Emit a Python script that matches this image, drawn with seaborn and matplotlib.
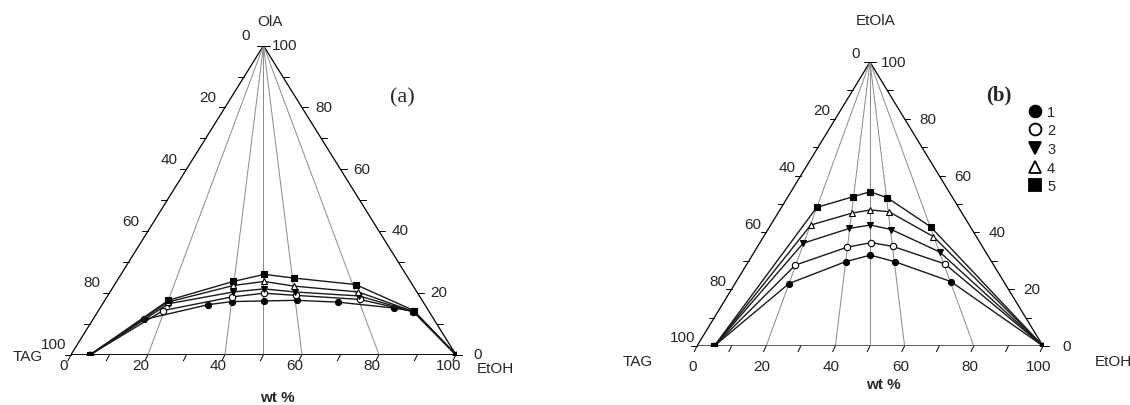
import pandas as pd
import seaborn as sns
import matplotlib.pyplot as plt
from matplotlib.lines import Line2D

# panel (a): EtOH and OlA content (wt %) for each curve, TAG is the rest
a1_etoh = [5, 13.3, 27.6, 33.3, 41.5, 49.8, 60.9, 76.4, 81.9, 100]
a1_ola = [0, 11.4, 16.2, 17.2, 17.4, 17.6, 17.0, 15.1, 14.1, 0]
a2_etoh = [5, 16.8, 32.5, 40.2, 48.8, 66.1, 82.0, 100]
a2_ola = [0, 14.3, 18.7, 19.9, 19.2, 17.9, 13.9, 0]
a3_etoh = [5, 17.1, 32.0, 39.5, 48.0, 65.4, 82.0, 100]
a3_ola = [0, 16.5, 20.3, 21.3, 20.3, 19.0, 13.9, 0]
a4_etoh = [5, 16.6, 31.0, 38.3, 46.8, 64.5, 81.9, 100]
a4_ola = [0, 17.0, 22.4, 23.7, 22.2, 20.3, 14.0, 0]
a5_etoh = [5, 16.5, 30.3, 37.2, 45.5, 62.6, 81.9, 100]
a5_ola = [0, 17.6, 23.7, 26.0, 24.8, 22.7, 14.3, 0]

# panel (b): EtOH and EtOlA content (wt %)
b1_etoh = [5, 15.6, 28.1, 34.1, 42.3, 62.0, 100]
b1_eola = [0, 22.0, 29.7, 32.0, 29.7, 22.7, 0]
b2_etoh = [5, 14.2, 26.0, 32.1, 39.0, 57.2, 100]
b2_eola = [0, 28.5, 34.8, 36.4, 35.1, 28.9, 0]
b3_etoh = [5, 12.6, 23.3, 28.8, 35.7, 53.6, 100]
b3_eola = [0, 36.2, 41.4, 42.6, 41.0, 33.1, 0]
b4_etoh = [5, 11.6, 21.4, 26.1, 31.8, 49.1, 100]
b4_eola = [0, 42.6, 46.8, 47.9, 47.3, 38.5, 0]
b5_etoh = [5, 10.2, 18.9, 22.9, 28.9, 46.5, 100]
b5_eola = [0, 48.8, 52.6, 54.3, 52.2, 42.0, 0]

series_names = ['1', '2', '3', '4', '5']
ratio_lines = [20, 40, 50, 60, 80]  # EtOH/(EtOH+TAG) lines from the apex
tick_values = [0, 20, 40, 60, 80, 100]

markers = ['o', 'o', 'v', '^', 's']
faces = ['black', 'white', 'black', 'white', 'black']
msizes = [4.4, 4.6, 4.8, 4.8, 5.0]

sns.set_style('white')
plt.rcParams['font.family'] = ['Liberation Sans', 'DejaVu Sans']
FS = 11


def ternary_xy(etoh, top):
    # bottom edge runs 0..100 in EtOH, apex is 100 % of the top component
    x = [e + t / 2 for e, t in zip(etoh, top)]
    return x, list(top)


def draw_frame(ax, left_off, right_off, bottom_off):
    ax.plot([0, 100, 50, 0], [0, 0, 100, 0], color='black', lw=0.9)
    for r in ratio_lines:
        ax.plot([50, r], [100, 0], color='#8a8a8a', lw=0.7)
    for v in range(0, 101, 10):
        ax.plot([v, v - 0.8], [0, -2.0], color='black', lw=0.7, clip_on=False)
        ax.plot([v / 2, v / 2 - 1.6], [v, v], color='black', lw=0.7, clip_on=False)
        ax.plot([100 - v / 2, 100 - v / 2 + 1.6], [v, v], color='black', lw=0.7,
                clip_on=False)
    for v in tick_values:
        # left edge: TAG content, 0 at apex
        ax.annotate(str(v), xy=((100 - v) / 2, 100 - v), xytext=left_off,
                    textcoords='offset points', ha='center', va='center', fontsize=FS)
        # right edge: top component content
        ax.annotate(str(v), xy=(100 - v / 2, v), xytext=right_off,
                    textcoords='offset points', ha='center', va='center', fontsize=FS)
        # bottom edge: EtOH content
        ax.annotate(str(v), xy=(v, 0), xytext=bottom_off,
                    textcoords='offset points', ha='center', va='center', fontsize=FS)


def draw_curves(ax, etoh_list, top_list):
    for i, (etoh, top) in enumerate(zip(etoh_list, top_list)):
        x, y = ternary_xy(etoh, top)
        df = pd.DataFrame({'x': x, 'y': y})
        sns.lineplot(data=df, x='x', y='y', sort=False, ax=ax, color='#1a1a1a', lw=1.0,
                     marker=markers[i], mfc=faces[i], mec='black', mew=0.8,
                     ms=msizes[i], zorder=3 + i)


fig = plt.figure(figsize=(11.3, 4.06), dpi=100)

# ---- panel (a) ----
ax1 = fig.add_axes([0.0628, 0.1239, 0.3407, 0.7611])
draw_frame(ax1, left_off=(-12.5, 7.5), right_off=(15.5, 0.5), bottom_off=(-5, -7.5))
draw_curves(ax1, [a1_etoh, a2_etoh, a3_etoh, a4_etoh, a5_etoh],
            [a1_ola, a2_ola, a3_ola, a4_ola, a5_ola])
ax1.text(51.7, 108, 'OlA', ha='center', va='center', fontsize=FS)
ax1.text(-11.2, -0.4, 'TAG', ha='center', va='center', fontsize=FS)
ax1.text(105.5, -4.4, 'EtOH', ha='left', va='center', fontsize=FS)
ax1.text(86, 83.3, '(a)', ha='center', va='center', fontsize=16, family='Liberation Serif')
ax1.text(53.5, -13.7, 'wt %', ha='center', va='center', fontsize=FS, weight='bold')

# ---- panel (b) ----
ax2 = fig.add_axes([0.6168, 0.1453, 0.3062, 0.6995])
draw_frame(ax2, left_off=(-10, 6.2), right_off=(17, 0), bottom_off=(-3, -14.5))
draw_curves(ax2, [b1_etoh, b2_etoh, b3_etoh, b4_etoh, b5_etoh],
            [b1_eola, b2_eola, b3_eola, b4_eola, b5_eola])
ax2.text(51.7, 114.8, 'EtOlA', ha='center', va='center', fontsize=FS)
ax2.text(-17, -5.3, 'TAG', ha='center', va='center', fontsize=FS)
ax2.text(120.2, -5.3, 'EtOH', ha='center', va='center', fontsize=FS)
ax2.text(87.3, 88.7, '(b)', ha='center', va='center', fontsize=15,
         family='Liberation Serif', weight='bold')
ax2.text(54, -13.4, 'wt %', ha='center', va='center', fontsize=FS, weight='bold')

handles = [Line2D([], [], ls='none', marker=m, mfc=f, mec='black', mew=1.3, ms=8.5)
           for m, f in zip(markers, faces)]
ax2.legend(handles, series_names, loc='upper left', bbox_to_anchor=(0.94, 0.875),
           frameon=False, fontsize=10.5, handlelength=0.8, handletextpad=0.4,
           labelspacing=0.32, borderpad=0)

for ax in (ax1, ax2):
    ax.set_xlim(0, 100)
    ax.set_ylim(0, 100)
    ax.set_xlabel('')
    ax.set_ylabel('')
    ax.axis('off')

fig.savefig('out.png', dpi=100)
